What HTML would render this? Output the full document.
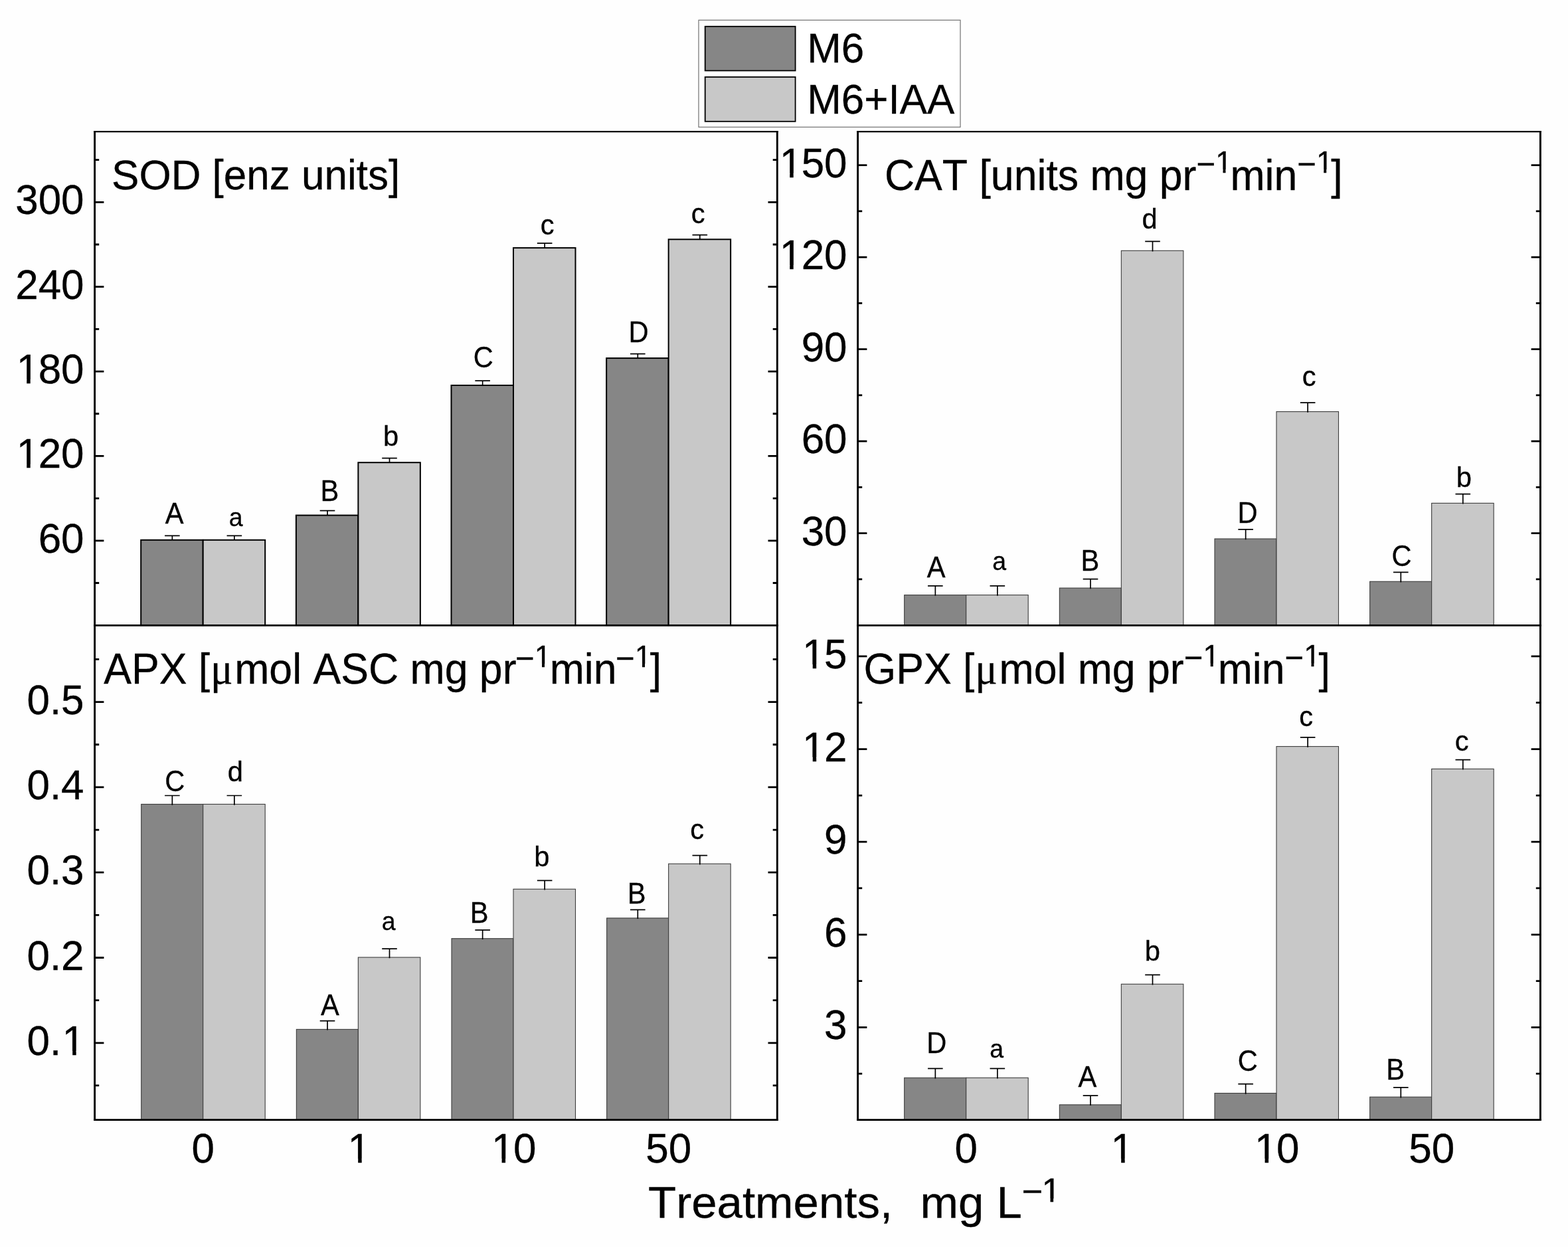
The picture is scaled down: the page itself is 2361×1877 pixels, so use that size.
<!DOCTYPE html>
<html lang="en"><head><meta charset="utf-8"><title>Figure</title>
<style>html,body{margin:0;padding:0;background:#fefefe}body{width:2361px;height:1877px;overflow:hidden}svg{display:block}text{font-kerning:none;font-variant-ligatures:none;white-space:pre;font-family:"Liberation Sans",sans-serif;fill:#000;stroke:#000;stroke-width:0.3px}.mu{font-family:"Liberation Serif","DejaVu Serif",serif}</style></head><body>
<svg width="2361" height="1877" viewBox="0 0 2361 1877">
<rect width="2361" height="1877" fill="#fefefe"/>
<g id="SOD-bars">
<g stroke="#000" stroke-width="2">
<rect x="212.2" y="812.8" width="93.5" height="128.3" fill="#868686"/>
<rect x="305.7" y="812.8" width="93.5" height="128.3" fill="#c8c8c8"/>
<rect x="445.85" y="775.6" width="93.5" height="165.5" fill="#868686"/>
<rect x="539.35" y="696.2" width="93.5" height="244.9" fill="#c8c8c8"/>
<rect x="679.5" y="580" width="93.5" height="361.1" fill="#868686"/>
<rect x="773" y="373.1" width="93.5" height="568" fill="#c8c8c8"/>
<rect x="913.15" y="539.1" width="93.5" height="402" fill="#868686"/>
<rect x="1006.65" y="360.3" width="93.5" height="580.8" fill="#c8c8c8"/>
</g>
<path d="M248.05 806.3H270.65M259.35 806.3V812.8M341.55 806.3H364.15M352.85 806.3V812.8M481.7 768.6H504.3M493 768.6V775.6M575.2 689.7H597.8M586.5 689.7V696.2M715.35 573.2H737.95M726.65 573.2V580M808.85 366.1H831.45M820.15 366.1V373.1M949 532.6H971.6M960.3 532.6V539.1M1042.5 353.6H1065.1M1053.8 353.6V360.3" fill="none" stroke="#000" stroke-width="1.7"/>
</g>
<g id="CAT-bars">
<g stroke="#3c3c3c" stroke-width="1.1">
<rect x="1361.7" y="895.6" width="93" height="45.5" fill="#868686"/>
<rect x="1454.7" y="895.6" width="93.5" height="45.5" fill="#c8c8c8"/>
<rect x="1595.35" y="885.1" width="93" height="56" fill="#868686"/>
<rect x="1688.35" y="377.3" width="93.5" height="563.8" fill="#c8c8c8"/>
<rect x="1829" y="811" width="93" height="130.1" fill="#868686"/>
<rect x="1922" y="619.6" width="93.5" height="321.5" fill="#c8c8c8"/>
<rect x="2062.65" y="875.3" width="93" height="65.8" fill="#868686"/>
<rect x="2155.65" y="757.4" width="93.5" height="183.7" fill="#c8c8c8"/>
</g>
<path d="M1397.05 881.8H1419.65M1408.35 881.8V896.8M1490.55 881.8H1513.15M1501.85 881.8V896.8M1630.7 871.6H1653.3M1642 871.6V886.3M1724.2 363.3H1746.8M1735.5 363.3V378.5M1864.35 796.9H1886.95M1875.65 796.9V812.2M1957.85 606.1H1980.45M1969.15 606.1V620.8M2098 861.3H2120.6M2109.3 861.3V876.5M2191.5 743.6H2214.1M2202.8 743.6V758.6" fill="none" stroke="#000" stroke-width="1.7"/>
</g>
<g id="APX-bars">
<g stroke="#3c3c3c" stroke-width="1.1">
<rect x="212.7" y="1210.5" width="93" height="474.8" fill="#868686"/>
<rect x="305.7" y="1210.5" width="93.5" height="474.8" fill="#c8c8c8"/>
<rect x="446.35" y="1549.4" width="93" height="135.9" fill="#868686"/>
<rect x="539.35" y="1441" width="93.5" height="244.3" fill="#c8c8c8"/>
<rect x="680" y="1412.7" width="93" height="272.6" fill="#868686"/>
<rect x="773" y="1338.3" width="93.5" height="347" fill="#c8c8c8"/>
<rect x="913.65" y="1381.9" width="93" height="303.4" fill="#868686"/>
<rect x="1006.65" y="1300.2" width="93.5" height="385.1" fill="#c8c8c8"/>
</g>
<path d="M248.05 1197.5H270.65M259.35 1197.5V1211.7M341.55 1197.5H364.15M352.85 1197.5V1211.7M481.7 1536.7H504.3M493 1536.7V1550.6M575.2 1428.2H597.8M586.5 1428.2V1442.2M715.35 1399.9H737.95M726.65 1399.9V1413.9M808.85 1325.3H831.45M820.15 1325.3V1339.5M949 1369.3H971.6M960.3 1369.3V1383.1M1042.5 1287.7H1065.1M1053.8 1287.7V1301.4" fill="none" stroke="#000" stroke-width="1.7"/>
</g>
<g id="GPX-bars">
<g stroke="#3c3c3c" stroke-width="1.1">
<rect x="1361.7" y="1622.3" width="93" height="63" fill="#868686"/>
<rect x="1454.7" y="1622.3" width="93.5" height="63" fill="#c8c8c8"/>
<rect x="1595.35" y="1662.9" width="93" height="22.4" fill="#868686"/>
<rect x="1688.35" y="1481.3" width="93.5" height="204" fill="#c8c8c8"/>
<rect x="1829" y="1645.5" width="93" height="39.8" fill="#868686"/>
<rect x="1922" y="1123.6" width="93.5" height="561.7" fill="#c8c8c8"/>
<rect x="2062.65" y="1651.2" width="93" height="34.1" fill="#868686"/>
<rect x="2155.65" y="1157.4" width="93.5" height="527.9" fill="#c8c8c8"/>
</g>
<path d="M1397.05 1608.3H1419.65M1408.35 1608.3V1623.5M1490.55 1608.3H1513.15M1501.85 1608.3V1623.5M1630.7 1649.1H1653.3M1642 1649.1V1664.1M1724.2 1467.3H1746.8M1735.5 1467.3V1482.5M1864.35 1631.7H1886.95M1875.65 1631.7V1646.7M1957.85 1109.8H1980.45M1969.15 1109.8V1124.8M2098 1636.9H2120.6M2109.3 1636.9V1652.4M2191.5 1143.6H2214.1M2202.8 1143.6V1158.6" fill="none" stroke="#000" stroke-width="1.7"/>
</g>
<g id="SOD-axes">
<path d="M142.6 813.8h13.8M1170.3 813.8h-13.8M142.6 686.42h13.8M1170.3 686.42h-13.8M142.6 559.05h13.8M1170.3 559.05h-13.8M142.6 431.68h13.8M1170.3 431.68h-13.8M142.6 304.3h13.8M1170.3 304.3h-13.8M142.6 877.49h6.6M1170.3 877.49h-6.6M142.6 750.11h6.6M1170.3 750.11h-6.6M142.6 622.74h6.6M1170.3 622.74h-6.6M142.6 495.36h6.6M1170.3 495.36h-6.6M142.6 367.99h6.6M1170.3 367.99h-6.6M142.6 240.61h6.6M1170.3 240.61h-6.6" fill="none" stroke="#000" stroke-width="2.8"/>
<path d="M142.6 197V942.5M1170.3 197V942.5" fill="none" stroke="#000" stroke-width="2.9"/>
<path d="M141.2 198.1H1171.7" fill="none" stroke="#000" stroke-width="2.3"/>
<path d="M141.2 941.3H1171.7" fill="none" stroke="#000" stroke-width="2.8"/>
<text transform="translate(57.64 831.8) scale(1 1.025)" font-size="62">60</text>
<text transform="translate(23.16 704.42) scale(1 1.025)" font-size="62"><tspan x="1.49" y="0">1</tspan><tspan x="34.48" y="0">20</tspan></text>
<text transform="translate(23.16 577.05) scale(1 1.025)" font-size="62"><tspan x="1.49" y="0">1</tspan><tspan x="34.48" y="0">80</tspan></text>
<text transform="translate(23.16 449.68) scale(1 1.025)" font-size="62">240</text>
<text transform="translate(23.16 322.3) scale(1 1.025)" font-size="62">300</text>
<text transform="translate(248.8 787.9) scale(1 1.06)" font-size="41.67">A</text>
<text transform="translate(344.82 791.7) scale(0.9 0.95)" font-size="41.67">a</text>
<text transform="translate(482.39 754.1) scale(1 1.06)" font-size="41.67">B</text>
<text transform="translate(576.89 671) scale(1 1)" font-size="41.67">b</text>
<text transform="translate(712.69 552.7) scale(1 1.06)" font-size="41.67">C</text>
<text transform="translate(813.7 352.8) scale(1 1)" font-size="41.67">c</text>
<text transform="translate(946.39 515.1) scale(1 1.06)" font-size="41.67">D</text>
<text transform="translate(1040.85 335.8) scale(1 1)" font-size="41.67">c</text>
</g>
<g id="CAT-axes">
<path d="M1291.6 802.6h13.8M2319.4 802.6h-13.8M1291.6 664.1h13.8M2319.4 664.1h-13.8M1291.6 525.6h13.8M2319.4 525.6h-13.8M1291.6 387.1h13.8M2319.4 387.1h-13.8M1291.6 248.6h13.8M2319.4 248.6h-13.8M1291.6 871.85h6.6M2319.4 871.85h-6.6M1291.6 733.35h6.6M2319.4 733.35h-6.6M1291.6 594.85h6.6M2319.4 594.85h-6.6M1291.6 456.35h6.6M2319.4 456.35h-6.6M1291.6 317.85h6.6M2319.4 317.85h-6.6" fill="none" stroke="#000" stroke-width="2.8"/>
<path d="M1291.6 197V942.5M2319.4 197V942.5" fill="none" stroke="#000" stroke-width="2.9"/>
<path d="M1290.2 198.1H2320.8" fill="none" stroke="#000" stroke-width="2.3"/>
<path d="M1290.2 941.3H2320.8" fill="none" stroke="#000" stroke-width="2.8"/>
<text transform="translate(1206.64 820.6) scale(1 1.025)" font-size="62">30</text>
<text transform="translate(1206.64 682.1) scale(1 1.025)" font-size="62">60</text>
<text transform="translate(1206.64 543.6) scale(1 1.025)" font-size="62">90</text>
<text transform="translate(1172.16 405.1) scale(1 1.025)" font-size="62"><tspan x="1.49" y="0">1</tspan><tspan x="34.48" y="0">20</tspan></text>
<text transform="translate(1172.16 266.6) scale(1 1.025)" font-size="62"><tspan x="1.49" y="0">1</tspan><tspan x="34.48" y="0">50</tspan></text>
<text transform="translate(1395.85 869.3) scale(1 1.06)" font-size="41.67">A</text>
<text transform="translate(1494.17 858.1) scale(0.9 0.95)" font-size="41.67">a</text>
<text transform="translate(1627.39 859.3) scale(1 1.06)" font-size="41.67">B</text>
<text transform="translate(1719.43 343.5) scale(1 1)" font-size="41.67">d</text>
<text transform="translate(1863.49 787.2) scale(1 1.06)" font-size="41.67">D</text>
<text transform="translate(1960.8 580.8) scale(1 1)" font-size="41.67">c</text>
<text transform="translate(2095.59 851.8) scale(1 1.06)" font-size="41.67">C</text>
<text transform="translate(2192.79 732.8) scale(1 1)" font-size="41.67">b</text>
</g>
<g id="APX-axes">
<path d="M142.6 1569.8h13.8M1170.3 1569.8h-13.8M142.6 1441.5h13.8M1170.3 1441.5h-13.8M142.6 1313.2h13.8M1170.3 1313.2h-13.8M142.6 1184.9h13.8M1170.3 1184.9h-13.8M142.6 1056.6h13.8M1170.3 1056.6h-13.8M142.6 1633.95h6.6M1170.3 1633.95h-6.6M142.6 1505.65h6.6M1170.3 1505.65h-6.6M142.6 1377.35h6.6M1170.3 1377.35h-6.6M142.6 1249.05h6.6M1170.3 1249.05h-6.6M142.6 1120.75h6.6M1170.3 1120.75h-6.6M142.6 992.45h6.6M1170.3 992.45h-6.6" fill="none" stroke="#000" stroke-width="2.8"/>
<path d="M142.6 940V1686.7M1170.3 940V1686.7" fill="none" stroke="#000" stroke-width="2.9"/>
<path d="M141.2 1685.6H1171.7" fill="none" stroke="#000" stroke-width="2.8"/>
<text transform="translate(40.41 1587.8) scale(1 1.025)" font-size="62"><tspan x="0" y="0">0.</tspan><tspan x="53.2" y="0">1</tspan></text>
<text transform="translate(40.41 1459.5) scale(1 1.025)" font-size="62">0.2</text>
<text transform="translate(40.41 1331.2) scale(1 1.025)" font-size="62">0.3</text>
<text transform="translate(40.41 1202.9) scale(1 1.025)" font-size="62">0.4</text>
<text transform="translate(40.41 1074.6) scale(1 1.025)" font-size="62">0.5</text>
<text transform="translate(248.29 1190.5) scale(1 1.06)" font-size="41.67">C</text>
<text transform="translate(342.63 1176.2) scale(1 1)" font-size="41.67">d</text>
<text transform="translate(482.9 1528.1) scale(1 1.06)" font-size="41.67">A</text>
<text transform="translate(574.77 1400.4) scale(0.9 0.95)" font-size="41.67">a</text>
<text transform="translate(707.69 1388.6) scale(1 1.06)" font-size="41.67">B</text>
<text transform="translate(804.34 1303.5) scale(1 1)" font-size="41.67">b</text>
<text transform="translate(944.84 1360.3) scale(1 1.06)" font-size="41.67">B</text>
<text transform="translate(1039.15 1263.4) scale(1 1)" font-size="41.67">c</text>
</g>
<g id="GPX-axes">
<path d="M1291.6 1546.4h13.8M2319.4 1546.4h-13.8M1291.6 1406.78h13.8M2319.4 1406.78h-13.8M1291.6 1267.15h13.8M2319.4 1267.15h-13.8M1291.6 1127.53h13.8M2319.4 1127.53h-13.8M1291.6 987.9h13.8M2319.4 987.9h-13.8M1291.6 1616.21h6.6M2319.4 1616.21h-6.6M1291.6 1476.59h6.6M2319.4 1476.59h-6.6M1291.6 1336.96h6.6M2319.4 1336.96h-6.6M1291.6 1197.34h6.6M2319.4 1197.34h-6.6M1291.6 1057.71h6.6M2319.4 1057.71h-6.6" fill="none" stroke="#000" stroke-width="2.8"/>
<path d="M1291.6 940V1686.7M2319.4 940V1686.7" fill="none" stroke="#000" stroke-width="2.9"/>
<path d="M1290.2 1685.6H2320.8" fill="none" stroke="#000" stroke-width="2.8"/>
<text transform="translate(1241.12 1564.4) scale(1 1.025)" font-size="62">3</text>
<text transform="translate(1241.12 1424.78) scale(1 1.025)" font-size="62">6</text>
<text transform="translate(1241.12 1285.15) scale(1 1.025)" font-size="62">9</text>
<text transform="translate(1206.64 1145.53) scale(1 1.025)" font-size="62"><tspan x="1.49" y="0">1</tspan><tspan x="34.48" y="0">2</tspan></text>
<text transform="translate(1206.64 1005.9) scale(1 1.025)" font-size="62"><tspan x="1.49" y="0">1</tspan><tspan x="34.48" y="0">5</tspan></text>
<text transform="translate(1395.14 1585) scale(1 1.06)" font-size="41.67">D</text>
<text transform="translate(1490.17 1591.8) scale(0.9 0.95)" font-size="41.67">a</text>
<text transform="translate(1623.5 1636.1) scale(1 1.06)" font-size="41.67">A</text>
<text transform="translate(1723.79 1446) scale(1 1)" font-size="41.67">b</text>
<text transform="translate(1863.84 1612.4) scale(1 1.06)" font-size="41.67">C</text>
<text transform="translate(1956.2 1092.8) scale(1 1)" font-size="41.67">c</text>
<text transform="translate(2087.29 1625.4) scale(1 1.06)" font-size="41.67">B</text>
<text transform="translate(2190.65 1129.9) scale(1 1)" font-size="41.67">c</text>
</g>
<text transform="translate(288.46 1750) scale(1 1.025)" font-size="62">0</text>
<text transform="translate(522.11 1750) scale(1 1.025)" font-size="62"><tspan x="1.49" y="0">1</tspan></text>
<text transform="translate(738.52 1750) scale(1 1.025)" font-size="62"><tspan x="1.49" y="0">1</tspan><tspan x="34.48" y="0">0</tspan></text>
<text transform="translate(972.17 1750) scale(1 1.025)" font-size="62">50</text>
<text transform="translate(1437.46 1750) scale(1 1.025)" font-size="62">0</text>
<text transform="translate(1671.11 1750) scale(1 1.025)" font-size="62"><tspan x="1.49" y="0">1</tspan></text>
<text transform="translate(1887.52 1750) scale(1 1.025)" font-size="62"><tspan x="1.49" y="0">1</tspan><tspan x="34.48" y="0">0</tspan></text>
<text transform="translate(2121.17 1750) scale(1 1.025)" font-size="62">50</text>
<g id="titles">
<text transform="translate(168.08 284.8) scale(1 1.03)" font-size="62">SOD [enz units]</text>
<text transform="translate(1331.92 285.6) scale(1 1.03)" font-size="62.6"><tspan x="0" y="0">CAT [units mg pr</tspan><tspan font-size="49" x="469.62" y="-21.17">&#8722;</tspan><tspan font-size="45.07" x="498.24" y="-25.05">1</tspan><tspan x="520.5" y="0">min</tspan><tspan font-size="49" x="621.37" y="-21.17">&#8722;</tspan><tspan font-size="45.07" x="649.99" y="-25.05">1</tspan><tspan x="672.25" y="0">]</tspan></text>
<text transform="translate(156.18 1029.3) scale(1 1.03)" font-size="62.6"><tspan x="0" y="0">APX [</tspan><tspan class="mu" x="160.85" y="0">&#956;</tspan><tspan x="197.01" y="0">mol ASC mg pr</tspan><tspan font-size="49" x="619.89" y="-21.17">&#8722;</tspan><tspan font-size="45.07" x="648.51" y="-25.05">1</tspan><tspan x="671.52" y="0">min</tspan><tspan font-size="49" x="770.89" y="-21.17">&#8722;</tspan><tspan font-size="45.07" x="799.51" y="-25.05">1</tspan><tspan x="822.52" y="0">]</tspan></text>
<text transform="translate(1300.55 1029) scale(1 1.03)" font-size="62.6"><tspan x="0" y="0">GPX [</tspan><tspan class="mu" x="167.78" y="0">&#956;</tspan><tspan x="203.95" y="0">mol mg pr</tspan><tspan font-size="49" x="482.22" y="-21.17">&#8722;</tspan><tspan font-size="45.07" x="510.84" y="-25.05">1</tspan><tspan x="533.1" y="0">min</tspan><tspan font-size="49" x="633.97" y="-21.17">&#8722;</tspan><tspan font-size="45.07" x="662.59" y="-25.05">1</tspan><tspan x="684.85" y="0">]</tspan></text>
</g>
<text transform="translate(976.05 1833) scale(1.07 1.03)" font-size="64.5"><tspan x="0" y="0">Treatments,</tspan><tspan x="346.91" y="0">  mg L</tspan><tspan font-size="51" x="525.67" y="-21.46">&#8722;</tspan><tspan font-size="48.8" x="553.59" y="-23.2">1</tspan></text>
<g id="legend">
<rect x="1052" y="30.3" width="394" height="161" fill="#fff" stroke="#707070" stroke-width="1.2"/>
<rect x="1061.7" y="39.8" width="135.9" height="66.6" fill="#868686" stroke="#000" stroke-width="1.8"/>
<rect x="1061.7" y="115.9" width="135.9" height="66.9" fill="#c8c8c8" stroke="#000" stroke-width="1.8"/>
<text transform="translate(1215.21 93.8) scale(1 1.025)" font-size="62">M6</text>
<text transform="translate(1215.21 170.7) scale(1 1.025)" font-size="62">M6+IAA</text>
</g>
<path d="M27.37 698.68H40.23V707.02H27.37zM45.71 698.68H58.1V707.02H45.71zM27.37 571.3H40.23V579.65H27.37zM45.71 571.3H58.1V579.65H45.71zM1176.37 399.35H1189.23V407.7H1176.37zM1194.71 399.35H1207.1V407.7H1194.71zM1176.37 260.85H1189.23V269.2H1176.37zM1194.71 260.85H1207.1V269.2H1194.71zM96.33 1582.05H109.2V1590.4H96.33zM114.68 1582.05H127.06V1590.4H114.68zM1210.85 1139.78H1223.72V1148.12H1210.85zM1229.2 1139.78H1241.58V1148.12H1229.2zM1210.85 1000.15H1223.72V1008.5H1210.85zM1229.2 1000.15H1241.58V1008.5H1229.2zM526.32 1744.25H539.19V1752.6H526.32zM544.67 1744.25H557.05V1752.6H544.67zM742.73 1744.25H755.6V1752.6H742.73zM761.08 1744.25H773.46V1752.6H761.08zM1675.32 1744.25H1688.19V1752.6H1675.32zM1693.67 1744.25H1706.05V1752.6H1693.67zM1891.73 1744.25H1904.6V1752.6H1891.73zM1910.08 1744.25H1922.46V1752.6H1910.08zM1831.59 255.33H1841.49V262.4H1831.59zM1845.48 255.33H1855.02V262.4H1845.48zM1983.34 255.33H1993.24V262.4H1983.34zM1997.23 255.33H2006.77V262.4H1997.23zM806.12 999.03H816.02V1006.1H806.12zM820 999.03H829.55V1006.1H820zM957.12 999.03H967.02V1006.1H957.12zM971 999.03H980.55V1006.1H971zM1812.82 998.73H1822.72V1005.8H1812.82zM1826.71 998.73H1836.25V1005.8H1826.71zM1964.57 998.73H1974.47V1005.8H1964.57zM1978.46 998.73H1988V1005.8H1978.46zM1570.37 1804.34H1581.52V1811.7H1570.37zM1586.13 1804.34H1596.88V1811.7H1586.13z" fill="#fefefe"/>
</svg></body></html>
